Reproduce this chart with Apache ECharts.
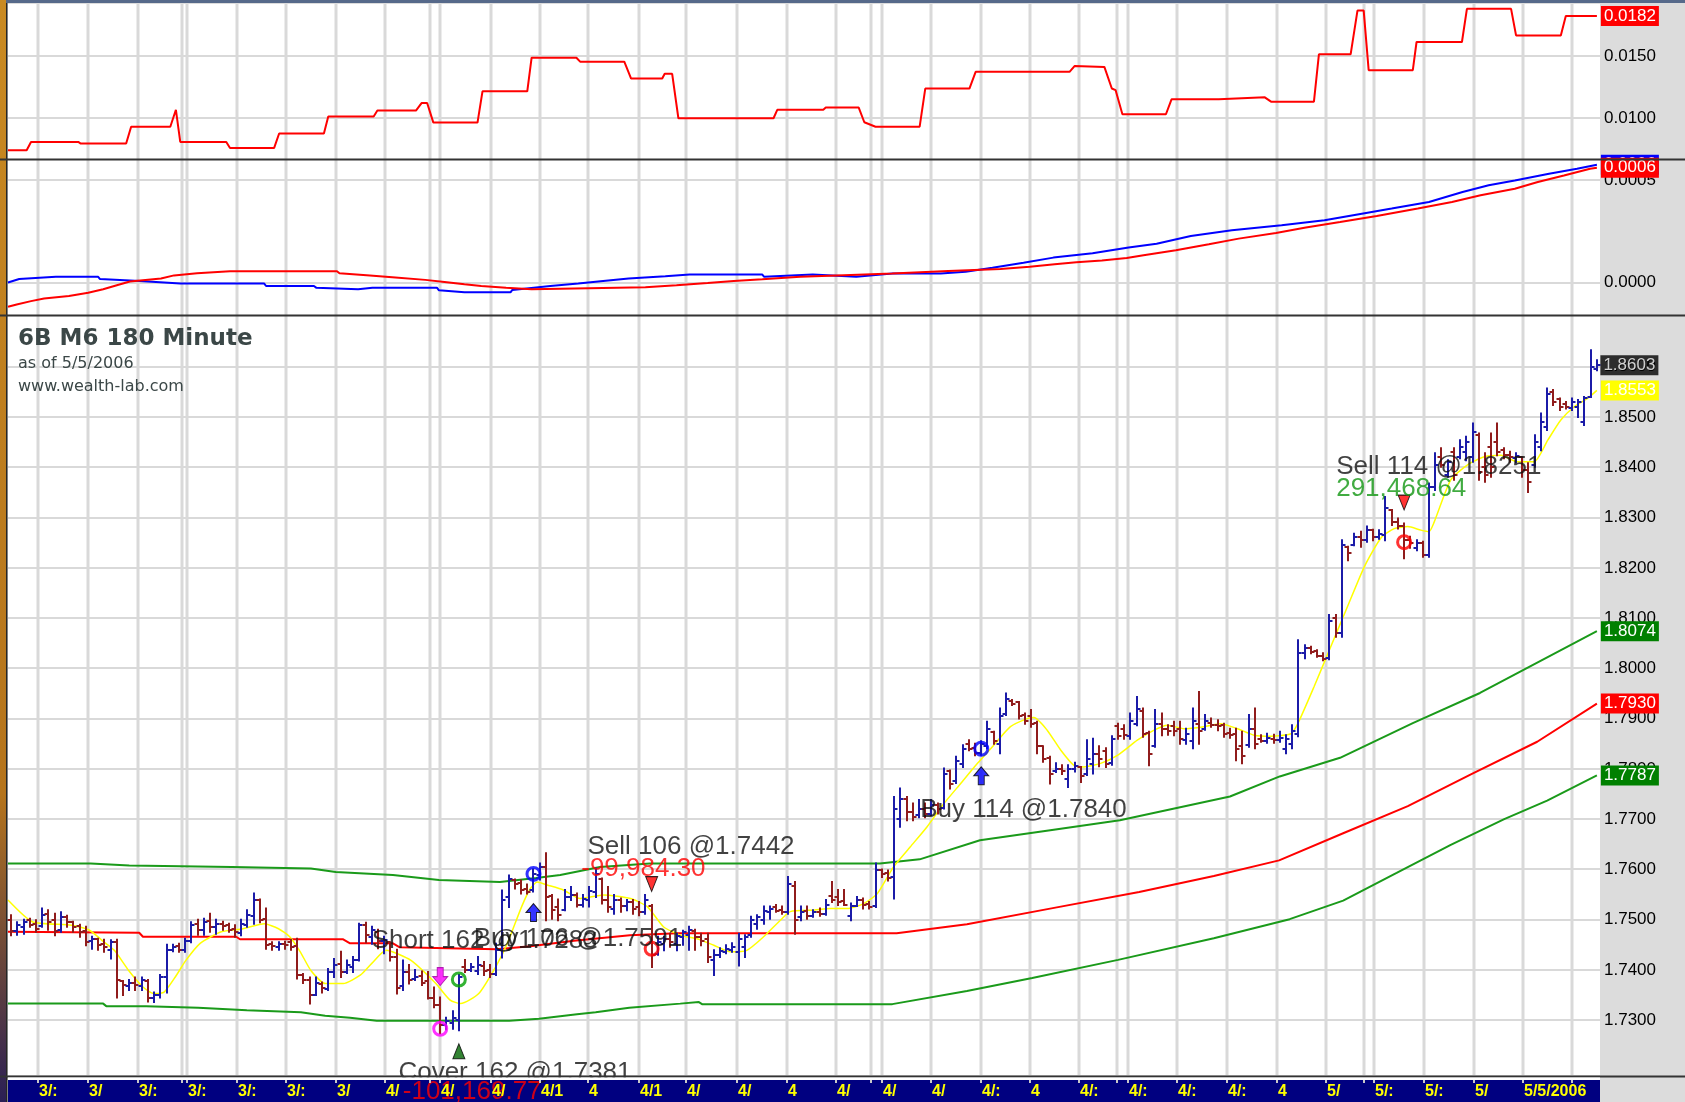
<!DOCTYPE html>
<html>
<head>
<meta charset="utf-8">
<title>6B M6 180 Minute</title>
<script src="https://cdn.jsdelivr.net/npm/echarts@6.0.0/dist/echarts.min.js"></script>
<style>
  html, body { margin: 0; padding: 0; background: #dcdcdc; }
  #chart { width: 1685px; height: 1102px; }
</style>
</head>
<body>
<div id="chart"></div>
<script>
// one row per 180 minute bar: [open, high, low, close]
const bars = [
  [1.7500,1.7509,1.7469,1.7478],[1.7478,1.7495,1.7470,1.7490],[1.7485,1.7500,1.7472,1.7495],[1.7500,1.7502,1.7486,1.7490],
  [1.7492,1.7499,1.7476,1.7482],[1.7488,1.7522,1.7486,1.7510],[1.7512,1.7519,1.7480,1.7495],[1.7500,1.7512,1.7469,1.7478],
  [1.7480,1.7515,1.7476,1.7505],[1.7505,1.7508,1.7486,1.7495],[1.7495,1.7496,1.7476,1.7485],[1.7488,1.7490,1.7466,1.7475],
  [1.7478,1.7486,1.7449,1.7455],[1.7458,1.7466,1.7442,1.7462],[1.7462,1.7462,1.7440,1.7450],[1.7452,1.7460,1.7436,1.7445],
  [1.7440,1.7459,1.7423,1.7455],[1.7455,1.7460,1.7345,1.7380],[1.7378,1.7378,1.7350,1.7370],[1.7368,1.7380,1.7360,1.7375],
  [1.7375,1.7385,1.7360,1.7370],[1.7368,1.7385,1.7360,1.7380],[1.7378,1.7380,1.7337,1.7345],[1.7345,1.7355,1.7336,1.7350],
  [1.7350,1.7390,1.7345,1.7385],[1.7385,1.7450,1.7355,1.7440],[1.7440,1.7450,1.7437,1.7445],[1.7448,1.7452,1.7436,1.7440],
  [1.7440,1.7462,1.7436,1.7458],[1.7458,1.7495,1.7455,1.7490],[1.7492,1.7500,1.7470,1.7480],[1.7480,1.7502,1.7470,1.7496],
  [1.7498,1.7512,1.7476,1.7485],[1.7485,1.7500,1.7472,1.7492],[1.7492,1.7496,1.7480,1.7488],[1.7490,1.7492,1.7476,1.7480],
  [1.7482,1.7489,1.7466,1.7475],[1.7474,1.7500,1.7469,1.7492],[1.7490,1.7519,1.7486,1.7510],[1.7508,1.7552,1.7492,1.7540],
  [1.7540,1.7540,1.7495,1.7500],[1.7502,1.7522,1.7442,1.7450],[1.7452,1.7455,1.7440,1.7448],[1.7446,1.7455,1.7440,1.7452],
  [1.7452,1.7456,1.7442,1.7450],[1.7455,1.7460,1.7440,1.7445],[1.7448,1.7462,1.7383,1.7390],[1.7390,1.7392,1.7374,1.7380],
  [1.7380,1.7385,1.7333,1.7350],[1.7350,1.7385,1.7350,1.7375],[1.7372,1.7375,1.7355,1.7365],[1.7362,1.7402,1.7360,1.7395],
  [1.7395,1.7422,1.7386,1.7410],[1.7412,1.7436,1.7386,1.7395],[1.7395,1.7419,1.7394,1.7410],[1.7405,1.7426,1.7396,1.7420],
  [1.7420,1.7492,1.7419,1.7490],[1.7490,1.7494,1.7455,1.7470],[1.7466,1.7486,1.7452,1.7480],[1.7475,1.7480,1.7443,1.7458],
  [1.7458,1.7466,1.7433,1.7460],[1.7455,1.7455,1.7419,1.7425],[1.7425,1.7440,1.7353,1.7365],[1.7368,1.7419,1.7360,1.7395],
  [1.7395,1.7410,1.7373,1.7380],[1.7382,1.7400,1.7380,1.7385],[1.7388,1.7397,1.7370,1.7375],[1.7378,1.7396,1.7343,1.7345],
  [1.7345,1.7365,1.7326,1.7330],[1.7330,1.7345,1.7274,1.7290],[1.7290,1.7305,1.7282,1.7298],[1.7295,1.7318,1.7283,1.7305],
  [1.7300,1.7390,1.7280,1.7385],[1.7405,1.7420,1.7396,1.7400],[1.7400,1.7412,1.7398,1.7405],[1.7398,1.7426,1.7392,1.7410],
  [1.7408,1.7416,1.7390,1.7398],[1.7400,1.7410,1.7386,1.7392],[1.7392,1.7452,1.7390,1.7440],[1.7440,1.7558,1.7425,1.7540],
  [1.7545,1.7588,1.7525,1.7580],[1.7578,1.7580,1.7562,1.7570],[1.7572,1.7578,1.7552,1.7560],[1.7562,1.7570,1.7552,1.7556],
  [1.7560,1.7600,1.7556,1.7590],[1.7588,1.7612,1.7580,1.7605],[1.7605,1.7632,1.7499,1.7545],[1.7548,1.7549,1.7502,1.7520],
  [1.7525,1.7540,1.7499,1.7510],[1.7520,1.7559,1.7519,1.7545],[1.7545,1.7565,1.7539,1.7550],[1.7550,1.7552,1.7526,1.7530],
  [1.7530,1.7549,1.7526,1.7542],[1.7540,1.7565,1.7526,1.7558],[1.7555,1.7602,1.7545,1.7590],[1.7580,1.7582,1.7532,1.7540],
  [1.7540,1.7565,1.7516,1.7525],[1.7522,1.7549,1.7512,1.7540],[1.7540,1.7542,1.7516,1.7528],[1.7528,1.7539,1.7519,1.7535],
  [1.7535,1.7539,1.7512,1.7522],[1.7525,1.7535,1.7509,1.7515],[1.7515,1.7549,1.7512,1.7540],[1.7528,1.7529,1.7406,1.7430],
  [1.7432,1.7466,1.7430,1.7455],[1.7452,1.7466,1.7439,1.7462],[1.7462,1.7472,1.7446,1.7455],[1.7452,1.7472,1.7439,1.7468],
  [1.7465,1.7478,1.7450,1.7475],[1.7470,1.7486,1.7440,1.7480],[1.7478,1.7480,1.7440,1.7465],[1.7465,1.7472,1.7449,1.7458],
  [1.7462,1.7472,1.7416,1.7425],[1.7420,1.7439,1.7390,1.7430],[1.7430,1.7443,1.7426,1.7438],[1.7436,1.7449,1.7433,1.7442],
  [1.7440,1.7453,1.7436,1.7446],[1.7435,1.7472,1.7409,1.7462],[1.7445,1.7469,1.7426,1.7465],[1.7470,1.7506,1.7466,1.7500],
  [1.7492,1.7509,1.7482,1.7505],[1.7500,1.7526,1.7492,1.7518],[1.7515,1.7526,1.7502,1.7522],[1.7525,1.7529,1.7516,1.7518],
  [1.7520,1.7526,1.7512,1.7515],[1.7515,1.7585,1.7512,1.7570],[1.7568,1.7575,1.7472,1.7500],[1.7505,1.7526,1.7499,1.7515],
  [1.7518,1.7526,1.7502,1.7508],[1.7508,1.7519,1.7506,1.7515],[1.7516,1.7522,1.7508,1.7512],[1.7512,1.7539,1.7510,1.7530],
  [1.7548,1.7575,1.7535,1.7540],[1.7545,1.7559,1.7529,1.7535],[1.7538,1.7559,1.7529,1.7530],[1.7508,1.7532,1.7499,1.7528],
  [1.7528,1.7545,1.7527,1.7540],[1.7540,1.7542,1.7522,1.7530],[1.7532,1.7535,1.7522,1.7526],[1.7528,1.7612,1.7525,1.7598],
  [1.7598,1.7600,1.7585,1.7590],[1.7592,1.7598,1.7578,1.7582],[1.7585,1.7744,1.7542,1.7720],[1.7700,1.7761,1.7685,1.7740],
  [1.7740,1.7744,1.7698,1.7715],[1.7715,1.7731,1.7698,1.7705],[1.7708,1.7738,1.7704,1.7720],[1.7720,1.7731,1.7704,1.7710],
  [1.7710,1.7738,1.7708,1.7728],[1.7728,1.7731,1.7711,1.7720],[1.7722,1.7801,1.7721,1.7790],[1.7795,1.7797,1.7761,1.7770],
  [1.7775,1.7824,1.7772,1.7815],[1.7810,1.7847,1.7804,1.7840],[1.7850,1.7857,1.7837,1.7840],[1.7842,1.7850,1.7827,1.7832],
  [1.7832,1.7855,1.7828,1.7850],[1.7845,1.7894,1.7841,1.7880],[1.7874,1.7874,1.7850,1.7855],[1.7850,1.7920,1.7831,1.7905],
  [1.7910,1.7950,1.7907,1.7940],[1.7935,1.7937,1.7927,1.7930],[1.7933,1.7933,1.7900,1.7905],[1.7908,1.7910,1.7890,1.7895],
  [1.7905,1.7917,1.7884,1.7890],[1.7892,1.7894,1.7831,1.7845],[1.7845,1.7845,1.7814,1.7820],[1.7822,1.7824,1.7771,1.7790],
  [1.7795,1.7811,1.7794,1.7800],[1.7800,1.7807,1.7790,1.7795],[1.7780,1.7807,1.7764,1.7800],[1.7800,1.7812,1.7795,1.7805],
  [1.7804,1.7804,1.7774,1.7785],[1.7790,1.7857,1.7788,1.7820],[1.7810,1.7860,1.7791,1.7830],[1.7830,1.7845,1.7805,1.7820],
  [1.7835,1.7841,1.7804,1.7810],[1.7812,1.7865,1.7808,1.7860],[1.7885,1.7890,1.7860,1.7865],[1.7880,1.7887,1.7860,1.7868],
  [1.7865,1.7910,1.7860,1.7895],[1.7890,1.7943,1.7887,1.7920],[1.7915,1.7920,1.7864,1.7870],[1.7872,1.7874,1.7807,1.7830],
  [1.7845,1.7917,1.7844,1.7890],[1.7890,1.7910,1.7867,1.7880],[1.7880,1.7887,1.7868,1.7875],[1.7885,1.7894,1.7867,1.7875],
  [1.7880,1.7894,1.7850,1.7860],[1.7858,1.7880,1.7850,1.7870],[1.7855,1.7920,1.7841,1.7895],[1.7890,1.7953,1.7850,1.7875],
  [1.7880,1.7907,1.7878,1.7895],[1.7892,1.7900,1.7884,1.7888],[1.7888,1.7897,1.7877,1.7885],[1.7888,1.7890,1.7864,1.7870],
  [1.7872,1.7880,1.7862,1.7868],[1.7870,1.7880,1.7817,1.7840],[1.7845,1.7874,1.7811,1.7825],[1.7848,1.7907,1.7844,1.7880],
  [1.7880,1.7920,1.7841,1.7850],[1.7860,1.7867,1.7854,1.7855],[1.7855,1.7870,1.7852,1.7862],[1.7860,1.7868,1.7852,1.7858],
  [1.7858,1.7874,1.7854,1.7862],[1.7840,1.7867,1.7831,1.7860],[1.7850,1.7887,1.7841,1.7875],[1.7870,1.8056,1.7865,1.8030],
  [1.8030,1.8046,1.8020,1.8040],[1.8040,1.8043,1.8030,1.8032],[1.8034,1.8036,1.8023,1.8025],[1.8025,1.8030,1.8016,1.8018],
  [1.8020,1.8106,1.8018,1.8095],[1.8100,1.8106,1.8063,1.8070],[1.8070,1.8255,1.8063,1.8245],[1.8242,1.8242,1.8215,1.8230],
  [1.8245,1.8268,1.8245,1.8262],[1.8262,1.8272,1.8242,1.8255],[1.8255,1.8282,1.8252,1.8275],[1.8275,1.8276,1.8255,1.8262],
  [1.8262,1.8275,1.8258,1.8268],[1.8265,1.8341,1.8255,1.8320],[1.8315,1.8315,1.8285,1.8292],[1.8292,1.8298,1.8278,1.8283],
  [1.8283,1.8288,1.8219,1.8255],[1.8255,1.8262,1.8240,1.8250],[1.8240,1.8255,1.8235,1.8250],[1.8250,1.8252,1.8222,1.8225],
  [1.8225,1.8368,1.8222,1.8360],[1.8360,1.8428,1.8355,1.8405],[1.8420,1.8438,1.8401,1.8405],[1.8385,1.8414,1.8381,1.8410],
  [1.8430,1.8438,1.8375,1.8385],[1.8420,1.8454,1.8418,1.8440],[1.8430,1.8461,1.8414,1.8450],[1.8420,1.8487,1.8411,1.8470],
  [1.8465,1.8467,1.8375,1.8390],[1.8400,1.8428,1.8371,1.8385],[1.8440,1.8467,1.8381,1.8400],[1.8450,1.8487,1.8424,1.8430],
  [1.8435,1.8438,1.8418,1.8425],[1.8425,1.8431,1.8411,1.8420],[1.8418,1.8428,1.8410,1.8422],[1.8420,1.8420,1.8381,1.8395],
  [1.8395,1.8408,1.8351,1.8370],[1.8405,1.8464,1.8401,1.8450],[1.8440,1.8507,1.8434,1.8490],[1.8480,1.8557,1.8474,1.8545],
  [1.8550,1.8554,1.8524,1.8530],[1.8535,1.8537,1.8514,1.8520],[1.8525,1.8530,1.8517,1.8520],[1.8518,1.8537,1.8514,1.8530],
  [1.8520,1.8534,1.8500,1.8530],[1.8490,1.8540,1.8484,1.8538],[1.8540,1.8633,1.8540,1.8600],[1.8595,1.8613,1.8593,1.8603]
];

// indicator lines as [bar slot, value]
const yellowLine = [
  [0,1.7539],[3.9,1.7496],[10.2,1.7489],[13.1,1.7479],[15.4,1.7456],[17.1,1.7439],[19.4,1.7399],[21.7,1.7366],
  [23.4,1.7353],[25.1,1.7356],[26.9,1.7386],[28.6,1.7419],[30.9,1.7453],[34.3,1.7476],[37.8,1.7482],[41.2,1.7492],
  [43.5,1.7482],[45.3,1.7466],[47.0,1.7436],[48.7,1.7399],[51.0,1.7373],[53.9,1.7373],[56.7,1.7390],[58.5,1.7413],
  [60.8,1.7439],[64.8,1.7419],[68.8,1.7373],[71.1,1.7340],[72.8,1.7333],[75.7,1.7353],[78.6,1.7410],[80.3,1.7453],
  [82.6,1.7526],[84.0,1.7562],[85.1,1.7575],[86.7,1.7569],[89.3,1.7559],[92.0,1.7542],[95.8,1.7549],[100.1,1.7542],
  [102.8,1.7526],[105.4,1.7486],[108.1,1.7469],[110.8,1.7462],[113.5,1.7449],[116.2,1.7436],[118.8,1.7439],[121.5,1.7466],
  [124.2,1.7499],[125.8,1.7516],[129.6,1.7519],[132.3,1.7522],[134.9,1.7522],[137.6,1.7532],[139.8,1.7552],[142.4,1.7605],
  [145.1,1.7645],[147.8,1.7685],[150.5,1.7731],[153.2,1.7771],[155.9,1.7811],[158.5,1.7847],[161.2,1.7884],[163.9,1.7900],
  [165.0,1.7902],[167.1,1.7877],[169.3,1.7837],[171.4,1.7807],[173.0,1.7804],[175.7,1.7811],[178.4,1.7827],[181.6,1.7857],
  [184.3,1.7877],[186.4,1.7887],[189.1,1.7880],[192.3,1.7884],[195.0,1.7890],[197.7,1.7880],[200.4,1.7867],[203.1,1.7865],
  [206.3,1.7870],[207.4,1.7890],[210.0,1.7963],[212.7,1.8043],[215.4,1.8123],[218.1,1.8202],[220.8,1.8260],[222.9,1.8278],
  [225.1,1.8282],[227.2,1.8275],[228.5,1.8272],[229.3,1.8290],[232.0,1.8375],[234.7,1.8405],[237.4,1.8421],[240.1,1.8424],
  [242.7,1.8411],[245.4,1.8411],[247.6,1.8454],[249.7,1.8494],[251.9,1.8521],[254.0,1.8537],[255.5,1.8553]
];
const upperBand = [
  [0,1.7612],[13.3,1.7612],[19.5,1.7608],[36.0,1.7605],[48.7,1.7602],[52.7,1.7595],[61.9,1.7589],[69.3,1.7579],
  [79.1,1.7575],[84.9,1.7583],[88.8,1.7589],[95.2,1.7605],[103.2,1.7612],[140.2,1.7612],[146.6,1.7620],[156.3,1.7658],
  [167.6,1.7678],[178.8,1.7698],[196.5,1.7745],[204.5,1.7785],[214.2,1.7822],[225.9,1.7891],[236.7,1.7951],[255.5,1.8074]
];
const midBand = [
  [0,1.7476],[21.1,1.7474],[21.7,1.7466],[36.7,1.7466],[37.3,1.7461],[53.9,1.7461],[55.0,1.7453],[61.9,1.7453],
  [63.0,1.7445],[78.6,1.7441],[84.0,1.7447],[91.0,1.7458],[100.0,1.7469],[107.6,1.7473],[142.9,1.7473],[154.2,1.7491],
  [168.0,1.7523],[181.9,1.7555],[193.9,1.7587],[204.4,1.7618],[214.7,1.7672],[225.1,1.7726],[235.4,1.7790],[245.9,1.7854],
  [255.5,1.7930]
];
const lowerBand = [
  [0,1.7333],[15.3,1.7333],[15.8,1.7328],[22.2,1.7328],[30.6,1.7325],[38.4,1.7320],[47.1,1.7316],[51.0,1.7309],
  [55.0,1.7305],[59.3,1.7299],[80.6,1.7299],[85.4,1.7303],[91.5,1.7312],[94.5,1.7316],[99.9,1.7325],[108.1,1.7333],
  [111.1,1.7336],[111.6,1.7332],[142.2,1.7332],[154.2,1.7358],[164.7,1.7384],[178.5,1.7420],[193.9,1.7463],[206.1,1.7501],
  [214.7,1.7538],[223.3,1.7593],[232.0,1.7649],[240.6,1.7700],[247.5,1.7737],[255.5,1.7787]
];
const stepLine = [
  [0,0.00743],[3.0,0.00743],[3.7,0.0081],[11.3,0.0081],[11.7,0.00797],[19.0,0.00797],[19.8,0.00932],[26.1,0.00932],
  [27.0,0.01068],[27.7,0.0081],[35.1,0.0081],[35.7,0.00762],[42.8,0.00762],[43.6,0.00878],[50.8,0.00878],[51.5,0.01014],
  [58.8,0.01014],[59.4,0.01062],[65.6,0.01062],[66.5,0.01122],[67.4,0.01122],[68.4,0.00965],[75.5,0.00965],[76.3,0.01216],
  [83.5,0.01216],[84.2,0.01486],[91.4,0.01486],[92.0,0.01454],[99.1,0.01454],[100.2,0.01319],[105.2,0.01319],[105.6,0.01357],
  [106.8,0.01357],[107.8,0.0100],[123.1,0.0100],[123.7,0.01068],[131.1,0.01068],[131.5,0.01086],[136.8,0.01086],[137.7,0.00968],
  [139.5,0.00932],[146.6,0.00932],[147.5,0.01238],[154.6,0.01238],[155.6,0.01373],[170.7,0.01373],[171.5,0.01419],[176.3,0.01412],
  [177.5,0.01239],[178.1,0.01226],[179.2,0.01032],[186.2,0.01032],[187.1,0.01152],[194.7,0.01152],[195.0,0.01168],[202.1,0.01168],
  [203.1,0.01133],[210.0,0.01133],[210.8,0.01513],[215.9,0.01513],[217.0,0.01864],[218.0,0.01864],[218.8,0.01386],[225.9,0.01386],
  [226.5,0.01612],[233.8,0.01612],[234.6,0.01878],[241.7,0.01878],[242.5,0.01665],[249.7,0.01665],[250.5,0.0182],[255.5,0.0182]
];
const blueLine = [
  [0,0.0000],[1.8,0.000017],[7.7,0.000028],[14.5,0.000028],[14.8,0.000017],[21.2,0.000008],[27.7,-0.000005],[41.2,-0.000005],
  [41.5,-0.000017],[49.2,-0.000017],[49.6,-0.000026],[56.3,-0.000033],[58.6,-0.000026],[69.0,-0.000026],[69.3,-0.000038],[73.4,-0.000048],
  [80.8,-0.000048],[81.1,-0.000036],[87.2,-0.000017],[91.7,-0.000005],[95.7,0.000008],[99.8,0.00002],[105.7,0.000031],[109.6,0.000039],
  [121.3,0.000039],[121.6,0.000028],[129.4,0.000039],[136.4,0.000028],[142.2,0.000044],[150.0,0.000044],[154.0,0.000053],[158.3,0.000072],
  [163.3,0.000097],[168.1,0.000122],[174.4,0.000143],[180.2,0.000172],[184.7,0.00019],[190.2,0.000228],[196.8,0.000256],[204.8,0.00028],
  [211.7,0.000305],[217.7,0.000337],[222.5,0.000362],[228.5,0.000394],[233.9,0.000443],[238.1,0.000476],[242.3,0.0005],[247.8,0.000533],
  [252.3,0.000557],[255.5,0.000577]
];
const redLine = [
  [0,-0.000119],[1.4,-0.000108],[3.7,-0.000091],[5.8,-0.000078],[9.8,-0.000066],[12.9,-0.00005],[15.3,-0.000033],[17.5,-0.000013],
  [19.6,0.000005],[24.6,0.00002],[26.7,0.000035],[30.4,0.000045],[35.7,0.000055],[52.9,0.000055],[53.3,0.000045],[58.2,0.000035],
  [62.3,0.000025],[67.1,0.000013],[70.2,0.000003],[73.4,-0.000008],[76.1,-0.000017],[80.1,-0.000026],[84.2,-0.000033],[102.5,-0.000023],
  [107.5,-0.000013],[112.5,-0.000002],[116.7,0.000008],[121.3,0.000016],[127.4,0.000028],[134.4,0.000036],[142.2,0.000044],[151.2,0.000056],
  [159.6,0.000066],[164.3,0.000077],[168.3,0.000089],[171.8,0.000099],[175.9,0.000108],[179.9,0.00012],[182.6,0.000134],[187.8,0.000158],
  [193.1,0.000187],[197.9,0.000215],[203.9,0.000243],[208.7,0.000269],[214.2,0.000296],[220.1,0.000326],[226.7,0.000362],[232.2,0.000394],
  [236.8,0.000427],[242.3,0.000459],[246.0,0.000492],[250.2,0.000524],[254.4,0.000557],[255.5,0.000562]
];

// day boundaries (bar slots) and the clipped date labels under them
const dayLines = [4.8,12.9,20.9,28.0,28.8,36.8,44.7,52.8,60.7,67.9,69.5,77.6,85.6,93.3,101.4,109.1,117.3,125.2,133.1,
  138.7,140.5,148.5,156.4,164.4,172.3,178.3,180.1,187.9,196.0,204.0,211.9,218.0,219.6,227.7,235.7,243.6,251.5];
const dayLabels = ['3/:','3/','3/:','','3/:','3/:','3/:','3/','4/','','4/','4/','4/1','4','4/1','4/','4/','4','4/',
  '','4/','4/','4/:','4','4/:','','4/:','4/:','4/:','4','5/','','5/:','5/:','5/','5/5/2006',''];

const priceTicks = [1.73,1.74,1.75,1.76,1.77,1.78,1.79,1.80,1.81,1.82,1.83,1.84,1.85,1.86];

// trades
const tradeBars = [69, 72, 84, 103, 156, 224];
const tradePrices = [1.7283, 1.7381, 1.7591, 1.7442, 1.7840, 1.8251];
const tradeKinds = ['short', 'cover', 'buy', 'sell', 'buy', 'sell'];

const noteTexts = ['Short 162 @1.7283', 'Buy 106 @1.7591', 'Cover 162 @1.7381', '-101,169.77',
  'Sell 106 @1.7442', '-99,984.30', 'Buy 114 @1.7840', 'Sell 114 @1.8251', '291,468.64'];
const noteAnchors = [[58.4,1.7457],[74.8,1.7462],[62.7,1.7195],[63.4,1.7157],
  [93.1,1.7644],[92.1,1.7602],[146.6,1.7718],[213.5,1.8400],[213.5,1.8358]];
const noteColors = ['#111','#111','#111','#ff0000','#111','#ff0000','#111','#111','#129612'];

const FONT = 'Liberation Sans';
const GRIDLINE = '#d9d9d9';

const tradeStyle = {
  short: { color: '#ff00ff', ring: '#ff00ff', edge: '#a000a0', above: true, size: [15, 18],
    symbol: 'path://M3,0 L7,0 L7,5 L10,5 L5,10 L0,5 L3,5 Z' },
  cover: { color: '#006400', ring: '#00a000', edge: '#000', above: false, size: [12, 15], symbol: 'triangle' },
  buy: { color: '#0000ff', ring: '#0000ff', edge: '#000', above: false, size: [15, 18],
    symbol: 'path://M5,0 L10,5 L7,5 L7,10 L3,10 L3,5 L0,5 Z' },
  sell: { color: '#ff0000', ring: '#ff0000', edge: '#000', above: true, size: [12, 15],
    symbol: 'path://M0,0 L10,0 L5,10 Z' }
};

const markerData = [];
tradeBars.forEach((b, k) => {
  const st = tradeStyle[tradeKinds[k]];
  const anchor = st.above ? bars[b][1] : bars[b][2];
  markerData.push({
    value: [b + 0.5, anchor], symbol: st.symbol, symbolSize: st.size,
    symbolOffset: [0, st.above ? -21 : 21],
    itemStyle: { color: st.color, borderColor: st.edge, borderWidth: 1 }
  });
  markerData.push({
    value: [b + 0.5, tradePrices[k]], symbol: 'circle', symbolSize: 13,
    itemStyle: { color: 'rgba(0,0,0,0)', borderColor: st.ring, borderWidth: 3 }
  });
});

function endTag(bg) {
  return {
    show: true, distance: 4, color: '#fff', backgroundColor: bg,
    fontSize: 17, fontFamily: FONT, padding: [2, 3, 1, 3],
    formatter: p => p.value[1].toFixed(4)
  };
}

function lineSeries(k, data, color, width, z, tag) {
  return {
    type: 'line', xAxisIndex: k, yAxisIndex: k, data, z,
    showSymbol: false, silent: true,
    lineStyle: { color, width },
    endLabel: endTag(tag || color)
  };
}

// light grey day lines and price levels behind everything else
function gridLineSeries(k, levels) {
  const data = dayLines.map(v => [v, 0]).concat(levels.map(v => [-1, v]));
  return {
    type: 'custom', xAxisIndex: k, yAxisIndex: k, z: 1, silent: true, data,
    renderItem(params, api) {
      const cs = params.coordSys;
      if (api.value(0) >= 0) {
        const x = Math.round(api.coord([api.value(0), levels[0]])[0]);
        return { type: 'rect', shape: { x: x - 1.5, y: cs.y, width: 3, height: cs.height }, style: { fill: GRIDLINE } };
      }
      const y = Math.round(api.coord([0, api.value(1)])[1]);
      return { type: 'rect', shape: { x: cs.x, y: y - 1, width: cs.width, height: 2 }, style: { fill: GRIDLINE } };
    }
  };
}

function renderBar(params, api) {
  const i = api.value(0) + 0.5;
  const o = api.coord([i, api.value(1)]);
  const h = api.coord([i, api.value(2)]);
  const l = api.coord([i, api.value(3)]);
  const c = api.coord([i, api.value(4)]);
  const color = api.value(4) >= api.value(1) ? '#1b1ba8' : '#901c1c';
  const x = Math.round(h[0]);
  const st = { stroke: color, lineWidth: 2 };
  return {
    type: 'group',
    children: [
      { type: 'line', shape: { x1: x, y1: h[1] - 1, x2: x, y2: l[1] + 1 }, style: st },
      { type: 'line', shape: { x1: x - 3.5, y1: Math.round(o[1]), x2: x, y2: Math.round(o[1]) }, style: st },
      { type: 'line', shape: { x1: x, y1: Math.round(c[1]), x2: x + 3.5, y2: Math.round(c[1]) }, style: st }
    ]
  };
}

function yAxis(k, min, max, ticks) {
  return {
    type: 'value', gridIndex: k, position: 'right', min, max,
    axisLine: { show: false }, axisTick: { show: false }, splitLine: { show: false },
    axisLabel: {
      customValues: ticks, formatter: v => v.toFixed(4),
      color: '#000', fontSize: 17, fontFamily: FONT, margin: 4
    }
  };
}

const chart = echarts.init(document.getElementById('chart'));
const lastClose = bars[bars.length - 1][3];

const option = {
  animation: false,
  backgroundColor: '#dcdcdc',
  textStyle: { fontFamily: FONT },
  grid: [
    { left: 8, top: 4, width: 1592, height: 155, show: true, backgroundColor: '#fff', borderWidth: 0, outerBoundsMode: 'none' },
    { left: 8, top: 160, width: 1592, height: 155, show: true, backgroundColor: '#fff', borderWidth: 0, outerBoundsMode: 'none' },
    { left: 8, top: 316, width: 1592, height: 759, show: true, backgroundColor: '#fff', borderWidth: 0, outerBoundsMode: 'none' },
    { left: 8, top: 1080, width: 1592, height: 22, show: true, backgroundColor: '#000080', borderWidth: 0, outerBoundsMode: 'none' }
  ],
  xAxis: [0, 1, 2, 3].map(k => ({ type: 'value', gridIndex: k, min: 0, max: 256, show: false })),
  yAxis: [
    yAxis(0, 0.00673, 0.01917, [0.0100, 0.0150]),
    yAxis(1, -0.000159, 0.000600, [0, 0.0005]),
    yAxis(2, 1.7191, 1.8701, priceTicks),
    { type: 'value', gridIndex: 3, min: 0, max: 1, show: false }
  ],
  series: [
    gridLineSeries(0, [0.0100, 0.0150]),
    gridLineSeries(1, [0, 0.0005]),
    gridLineSeries(2, priceTicks),

    lineSeries(0, stepLine, '#ff0000', 2, 3),
    lineSeries(1, blueLine, '#0000ff', 2, 3),
    lineSeries(1, redLine, '#ff0000', 2, 4),

    lineSeries(2, upperBand, '#1a9a1a', 2, 3, '#008000'),
    lineSeries(2, midBand, '#ff0000', 2, 3),
    lineSeries(2, lowerBand, '#1a9a1a', 2, 3, '#008000'),
    Object.assign(lineSeries(2, yellowLine, '#ffff00', 1.5, 4), { smooth: 0.2 }),

    {
      type: 'custom', xAxisIndex: 2, yAxisIndex: 2, z: 5, silent: true,
      data: bars.map((b, i) => [i, b[0], b[1], b[2], b[3]]),
      encode: { x: 0, y: [1, 2, 3, 4] },
      renderItem: renderBar
    },
    {
      type: 'scatter', xAxisIndex: 2, yAxisIndex: 2, z: 6, silent: true,
      data: [[255.5, lastClose]], symbolSize: 1, itemStyle: { color: 'rgba(0,0,0,0)' },
      label: {
        show: true, position: 'right', distance: 3, color: '#fff', backgroundColor: '#000',
        fontSize: 17, fontFamily: FONT, padding: [2, 3, 1, 3], formatter: p => p.value[1].toFixed(4)
      }
    },
    {
      type: 'scatter', xAxisIndex: 2, yAxisIndex: 2, z: 7, silent: true, clip: false,
      data: markerData
    },
    {
      type: 'scatter', xAxisIndex: 2, yAxisIndex: 2, z: 8, silent: true, clip: false,
      symbolSize: 1, itemStyle: { color: 'rgba(0,0,0,0)' },
      data: noteAnchors.map((a, k) => ({ value: a, label: { color: noteColors[k] } })),
      label: {
        show: true, position: 'right', distance: 0, fontSize: 26, fontFamily: FONT,
        formatter: p => noteTexts[p.dataIndex]
      }
    },
    {
      type: 'custom', xAxisIndex: 3, yAxisIndex: 3, z: 9, silent: true, clip: true,
      data: dayLines.map(v => [v, 0.5]),
      renderItem(params, api) {
        const cs = params.coordSys;
        const x = Math.round(api.coord([api.value(0), 0.5])[0]);
        const children = [
          { type: 'rect', shape: { x: x - 1, y: cs.y, width: 2, height: 3 }, style: { fill: '#c8c8c8' } }
        ];
        const text = dayLabels[params.dataIndex];
        if (text) {
          children.push({
            type: 'text', x: x + 1, y: cs.y + cs.height / 2 + 1,
            style: {
              text, fill: '#ffff00', font: 'bold 16px "Liberation Sans"',
              align: 'left', verticalAlign: 'middle'
            }
          });
        }
        return { type: 'group', children };
      }
    }
  ],
  graphic: [
    { type: 'rect', z: 100, shape: { x: 0, y: 0, width: 1685, height: 3 }, style: { fill: '#56698a' } },
    {
      type: 'rect', z: 100, shape: { x: 0, y: 0, width: 6, height: 1102 },
      style: {
        fill: new echarts.graphic.LinearGradient(0, 0, 0, 1, [
          { offset: 0, color: '#c98a22' }, { offset: 0.72, color: '#b5741c' }, { offset: 1, color: '#2a1f55' }
        ])
      }
    },
    { type: 'rect', z: 100, shape: { x: 6, y: 3, width: 1.5, height: 1099 }, style: { fill: '#262626' } },
    { type: 'rect', z: 100, shape: { x: 0, y: 158.5, width: 1685, height: 2 }, style: { fill: '#333' } },
    { type: 'rect', z: 100, shape: { x: 0, y: 314.5, width: 1685, height: 2 }, style: { fill: '#333' } },
    { type: 'rect', z: 100, shape: { x: 0, y: 1075.5, width: 1685, height: 2 }, style: { fill: '#333' } },
    { type: 'rect', z: 100, shape: { x: 8, y: 1077.5, width: 1592, height: 2.5 }, style: { fill: '#fff' } },
    {
      type: 'text', z: 100, x: 18, y: 339,
      style: { text: '6B M6 180 Minute', fill: '#3b4747', font: 'bold 23px "DejaVu Sans"', verticalAlign: 'middle' }
    },
    {
      type: 'text', z: 100, x: 18, y: 364,
      style: { text: 'as of 5/5/2006', fill: '#3b4747', font: '16px "DejaVu Sans"', verticalAlign: 'middle' }
    },
    {
      type: 'text', z: 100, x: 18, y: 387,
      style: { text: 'www.wealth-lab.com', fill: '#3b4747', font: '16px "DejaVu Sans"', verticalAlign: 'middle' }
    }
  ]
};

chart.setOption(option);
</script>
</body>
</html>
